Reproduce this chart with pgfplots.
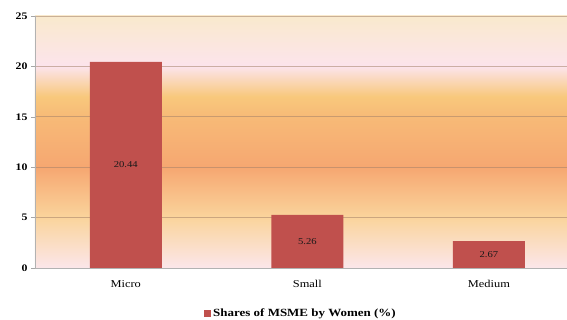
\documentclass[border=0pt]{standalone}
\usepackage{pgfplots}
\pgfplotsset{compat=1.18}
\usepackage{fontspec}
\setmainfont{Liberation Serif}[FakeStretch=1.18]
\definecolor{barred}{HTML}{C0504D}
\definecolor{g0}{HTML}{FBE6EA}
\definecolor{g1}{HTML}{FAD49C}
\definecolor{g2}{HTML}{F6A771}
\definecolor{g3}{HTML}{F7BA77}
\definecolor{g4}{HTML}{F8C87C}
\definecolor{g5}{HTML}{FCE4EC}
\definecolor{g6}{HTML}{F9E9CD}
\definecolor{gridc}{RGB}{165,130,105}
\pgfdeclareverticalshading{bgshade}{100bp}{color(0bp)=(g0); color(25bp)=(g0); color(35bp)=(g1); color(45bp)=(g2); color(55bp)=(g3); color(59bp)=(g4); color(65bp)=(g5); color(75bp)=(g6); color(100bp)=(g6)}
\begin{document}
\begin{tikzpicture}
\begin{axis}[
  scale only axis,
  width=532pt, height=252pt,
  xmin=-0.5, xmax=2.43,
  ymin=0, ymax=25,
  ytick={0,5,10,15,20,25},
  xtick={0,1,2},
  xticklabels={Micro,Small,Medium},
  extra x ticks={0.5,1.5},
  extra x tick labels={},
  extra x tick style={major tick length=5pt, tick style={draw=gray!70}, xtick pos=bottom, tick align=outside, grid=none},
  x tick label style={font=\fontsize{10.5}{12}\selectfont, yshift=-5pt},
  y tick label style={font=\fontsize{10}{11}\selectfont\bfseries},
  major x tick style={draw=none},
  ytick pos=left, tick align=outside,
  major tick length=4pt,
  y tick style={draw=gray!70},
  axis x line*=bottom, axis y line*=left,
  axis line style={draw=gray!60, line width=0.8pt},
  ymajorgrids,
  grid style={draw=gridc, draw opacity=0.55, line width=0.8pt},
  axis background/.style={shading=bgshade},
  /pgf/number format/assume math mode=true,
  legend style={at={(0.5,-0.145)}, anchor=north, draw=none, fill=none, font=\fontsize{11}{13}\selectfont\bfseries, legend cell align=left},
  legend image code/.code={\fill[barred] (-2pt,-3.5pt) rectangle (5pt,3.5pt);},
  clip=false,
]
\addplot[ybar, bar width=72pt, fill=barred, draw=none, bar shift=0pt] coordinates {(0,20.44) (1,5.26) (2,2.67)};
\addlegendentry{Shares of MSME by Women (\%)}
\addplot[only marks, mark=none, nodes near coords, point meta=explicit symbolic,
  every node near coord/.style={font=\fontsize{9}{10}\selectfont, text=black!90, anchor=center}, forget plot]
  table[meta=lbl] {
x y lbl
0 10.22 20.44
1 2.63 5.26
2 1.335 2.67
};
\end{axis}
\pgfresetboundingbox
\path[use as bounding box] (-35pt,-52pt) rectangle (532pt,268pt);
\end{tikzpicture}
\end{document}
